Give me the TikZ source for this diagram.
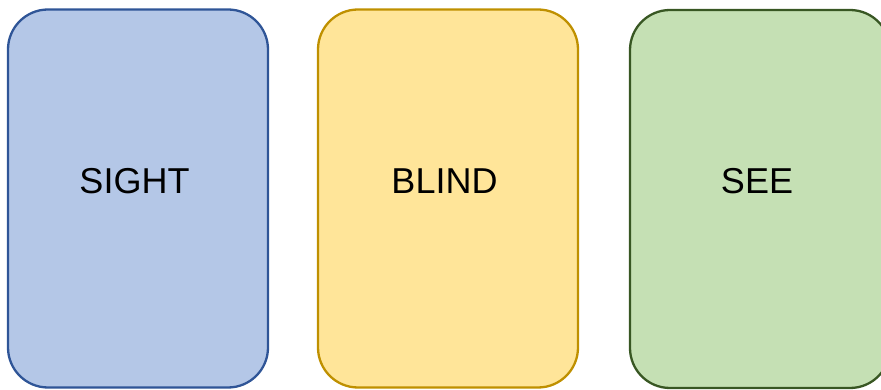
\documentclass[tikz,border=0pt]{standalone}
\usepackage{fontspec}
\setmainfont{Liberation Sans}
\definecolor{bfill}{HTML}{B4C7E7}
\definecolor{bdraw}{HTML}{2F5597}
\definecolor{yfill}{HTML}{FFE599}
\definecolor{ydraw}{HTML}{BF9000}
\definecolor{gfill}{HTML}{C5E0B4}
\definecolor{gdraw}{HTML}{385723}
\begin{document}
\begin{tikzpicture}[x=1pt,y=-1pt,
  card/.style={rectangle, rounded corners=40pt, line width=2.3pt, minimum width=260pt, minimum height=378pt, inner sep=0pt},
  lbl/.style={font=\fontsize{36}{42}\selectfont, inner sep=0pt},
]
\useasboundingbox[clip] (0,0) rectangle (881,390);
\node[card, fill=bfill, draw=bdraw] (sight) at (138,198.5) {};
\node[card, fill=yfill, draw=ydraw] (blind) at (448,198.5) {};
\node[card, fill=gfill, draw=gdraw] (see) at (760,199) {};
\node[lbl] (t1) at (134.5,181) {SIGHT};
\node[lbl] (t2) at (444.5,181) {BLIND};
\node[lbl] (t3) at (757,181) {SEE};
\end{tikzpicture}
\end{document}
